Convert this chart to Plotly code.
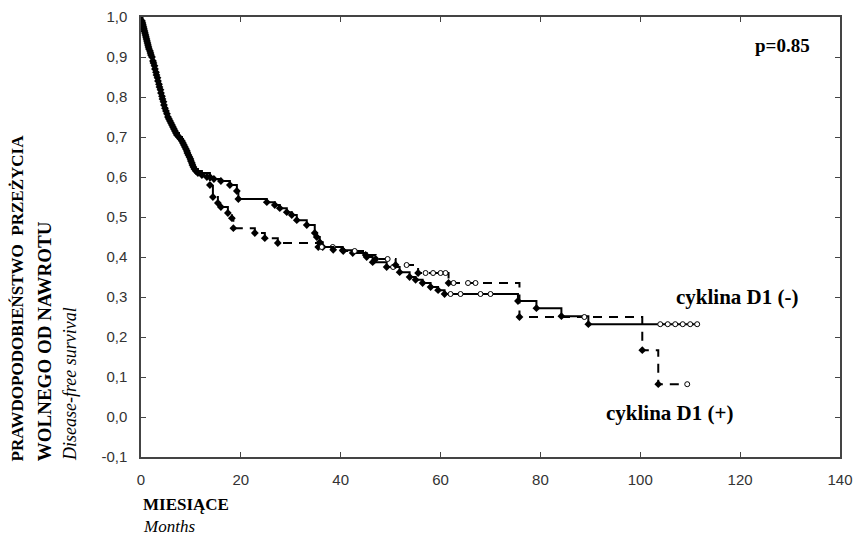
import plotly.graph_objects as go

# ---- data ----
# cyklina D1 (-)  : solid line
neg_t = [0, 0.2, 0.4, 0.6, 0.8, 1.0, 1.2, 1.4, 1.6, 1.9, 2.2, 2.5, 2.8, 3.1, 3.4, 3.7, 4.0, 4.3, 4.6,
         5.0, 5.4, 5.8, 6.2, 6.6, 7.0, 7.6, 8.2, 8.6, 9.0, 9.3, 9.7, 10.0, 10.3, 10.7, 11.4,
         13.8, 14.6, 16.0, 17.8, 19.2, 19.5, 25.2, 26.8, 27.8, 29.2, 30.2, 31.2, 33.2, 34.8, 35.2,
         35.8, 36.4, 38.4, 40.4, 42.4, 45.2, 46.4, 49.2, 50.5, 51.8, 53.8, 55.0, 56.4, 58.0, 59.5,
         60.8, 62.0, 64.0, 68.0, 70.0, 75.5, 79.2, 84.2, 89.6, 104.0, 105.5, 107.0, 108.5, 110.0, 111.4]
neg_s = [1.0, 0.99, 0.98, 0.97, 0.96, 0.95, 0.94, 0.93, 0.92, 0.91, 0.90, 0.885, 0.87, 0.855, 0.84,
         0.825, 0.81, 0.795, 0.78, 0.765, 0.75, 0.74, 0.73, 0.72, 0.71, 0.70, 0.69, 0.68, 0.67, 0.66,
         0.65, 0.64, 0.63, 0.62, 0.61,
         0.60, 0.595, 0.59, 0.58, 0.565, 0.545, 0.537, 0.53, 0.522, 0.512, 0.505, 0.492, 0.48, 0.46,
         0.45, 0.437, 0.425, 0.425, 0.417, 0.41, 0.40, 0.387, 0.375, 0.375, 0.362, 0.35, 0.343, 0.335,
         0.325, 0.317, 0.3075, 0.3075, 0.3075, 0.3075, 0.3075, 0.29, 0.272, 0.252, 0.232,
         0.232, 0.232, 0.232, 0.232, 0.232, 0.232]
neg_c = [0] * 38 + [0] * 14 + [1, 0, 0, 0, 0, 0, 1, 0, 0, 0, 0, 0, 0, 0, 1, 1, 1, 1, 0, 0, 0, 0,
                              1, 1, 1, 1, 1, 1]

# cyklina D1 (+)  : dashed line
pos_t = [0, 0.3, 0.5, 0.7, 0.9, 1.1, 1.3, 1.5, 1.8, 2.0, 2.4, 2.7, 3.0, 3.3, 3.6, 3.9, 4.2, 4.5, 4.8,
         5.2, 5.6, 6.0, 6.4, 6.8, 7.2, 7.9, 8.4, 8.8, 9.2, 9.5, 9.9, 10.2, 10.5, 11.0, 12.2,
         13.2, 13.8, 14.4, 15.4, 16.0, 17.4, 18.2, 18.5, 22.8, 24.8, 27.4, 35.5, 36.2, 38.5, 40.5,
         42.8, 45.0, 47.0, 49.4, 51.0, 53.2, 55.5, 57.0, 58.5, 60.0, 61.0, 61.6, 62.6, 65.5, 67.0,
         75.8, 88.8, 100.4, 103.6, 109.4]
pos_s = [1.0, 0.985, 0.975, 0.965, 0.955, 0.945, 0.935, 0.925, 0.915, 0.905, 0.89, 0.878, 0.862,
         0.848, 0.832, 0.818, 0.802, 0.788, 0.772, 0.758, 0.745, 0.735, 0.725, 0.715, 0.705, 0.695,
         0.685, 0.675, 0.665, 0.655, 0.645, 0.635, 0.625, 0.615, 0.605,
         0.60, 0.58, 0.55, 0.535, 0.525, 0.51, 0.497, 0.472, 0.46, 0.447, 0.435, 0.425, 0.425, 0.418,
         0.415, 0.415, 0.405, 0.395, 0.395, 0.38, 0.38, 0.36, 0.36, 0.36, 0.36, 0.36, 0.335, 0.335,
         0.335, 0.335, 0.25, 0.25, 0.167, 0.082, 0.082]
pos_c = [0] * 35 + [0, 0, 0, 0, 0, 0, 0, 0, 0, 0, 0, 0, 1, 0, 0, 1, 0, 0, 1, 0, 1, 0, 1, 1, 1, 1,
                    0, 1, 1, 1, 0, 1, 0, 0, 1]

y_ticks = [-0.1, 0.0, 0.1, 0.2, 0.3, 0.4, 0.5, 0.6, 0.7, 0.8, 0.9, 1.0]
y_tick_labels = ["-0,1", "0,0", "0,1", "0,2", "0,3", "0,4", "0,5", "0,6", "0,7", "0,8", "0,9", "1,0"]
x_ticks = [0, 20, 40, 60, 80, 100, 120, 140]

p_text = "p=0.85"
label_neg = "cyklina D1 (-)"
label_pos = "cyklina D1 (+)"

# ---- figure ----
fig = go.Figure()


def add_group(t, s, c, dash):
    fig.add_trace(go.Scatter(x=t, y=s, mode="lines", line=dict(color="black", width=2, shape="hv", dash=dash),
                             hoverinfo="skip", showlegend=False))
    ev_x = [t[i] for i in range(1, len(t)) if c[i] == 0]
    ev_y = [s[i] for i in range(1, len(t)) if c[i] == 0]
    ce_x = [t[i] for i in range(1, len(t)) if c[i] == 1]
    ce_y = [s[i] for i in range(1, len(t)) if c[i] == 1]
    fig.add_trace(go.Scatter(x=ev_x, y=ev_y, mode="markers",
                             marker=dict(symbol="diamond", size=6, color="black"),
                             hoverinfo="skip", showlegend=False))
    fig.add_trace(go.Scatter(x=ce_x, y=ce_y, mode="markers",
                             marker=dict(symbol="circle", size=5, color="white",
                                         line=dict(color="black", width=1)),
                             hoverinfo="skip", showlegend=False))


add_group(neg_t, neg_s, neg_c, "solid")
add_group(pos_t, pos_s, pos_c, "9px,7px")

serif = "Liberation Serif"
tick_font = dict(family="Liberation Sans", size=15, color="#333")
fig.update_layout(
    width=854, height=537,
    margin=dict(l=141, r=14, t=17, b=80),
    paper_bgcolor="white", plot_bgcolor="white",
    xaxis=dict(range=[0, 140], tickvals=x_ticks, ticks="inside", ticklen=5, tickcolor="#444",
               showline=True, linecolor="#444", linewidth=1.5, mirror="ticks", showgrid=False,
               zeroline=False, tickfont=tick_font, ticklabelstandoff=8, automargin=False),
    yaxis=dict(range=[-0.1, 1.0], tickvals=y_ticks, ticktext=y_tick_labels, ticks="inside", ticklen=5,
               tickcolor="#444", showline=True, linecolor="#444", linewidth=1.5, mirror="ticks",
               showgrid=False, zeroline=False, tickfont=tick_font, ticklabelstandoff=9,
               automargin=False),
)

ann = [
    dict(text="<b>" + p_text + "</b>", x=0.918, y=0.936, xref="paper", yref="paper", showarrow=False,
         font=dict(family=serif, size=19, color="black"), xanchor="center", yanchor="middle"),
    dict(text="<b>" + label_neg + "</b>", x=119.4, y=0.30, xref="x", yref="y", showarrow=False,
         font=dict(family=serif, size=21, color="black"), xanchor="center", yanchor="middle"),
    dict(text="<b>" + label_pos + "</b>", x=105.8, y=0.01, xref="x", yref="y", showarrow=False,
         font=dict(family=serif, size=21, color="black"), xanchor="center", yanchor="middle"),
    dict(text="<b>PRAWDOPODOBIEŃSTWO\u00a0 PRZEŻYCIA</b>", x=-0.176, y=-0.0136, xref="paper", yref="paper",
         showarrow=False, textangle=-90, font=dict(family=serif, size=17, color="black"),
         xanchor="center", yanchor="bottom"),
    dict(text="<b>WOLNEGO OD NAWROTU</b>", x=-0.137, y=-0.0136, xref="paper", yref="paper",
         showarrow=False, textangle=-90, font=dict(family=serif, size=19, color="black"),
         xanchor="center", yanchor="bottom"),
    dict(text="<i>Disease-free survival</i>", x=-0.1016, y=-0.0136, xref="paper", yref="paper",
         showarrow=False, textangle=-90, font=dict(family=serif, size=18, color="black"),
         xanchor="center", yanchor="bottom"),
    dict(text="<b>MIESIĄCE</b>", x=0, y=-0.107, xref="paper", yref="paper", showarrow=False,
         font=dict(family=serif, size=17, color="black"), xanchor="left", yanchor="middle"),
    dict(text="<i>Months</i>", x=0, y=-0.159, xref="paper", yref="paper", showarrow=False,
         font=dict(family=serif, size=17, color="black"), xanchor="left", yanchor="middle"),
]
fig.update_layout(annotations=ann)

fig.write_html("out.html")
